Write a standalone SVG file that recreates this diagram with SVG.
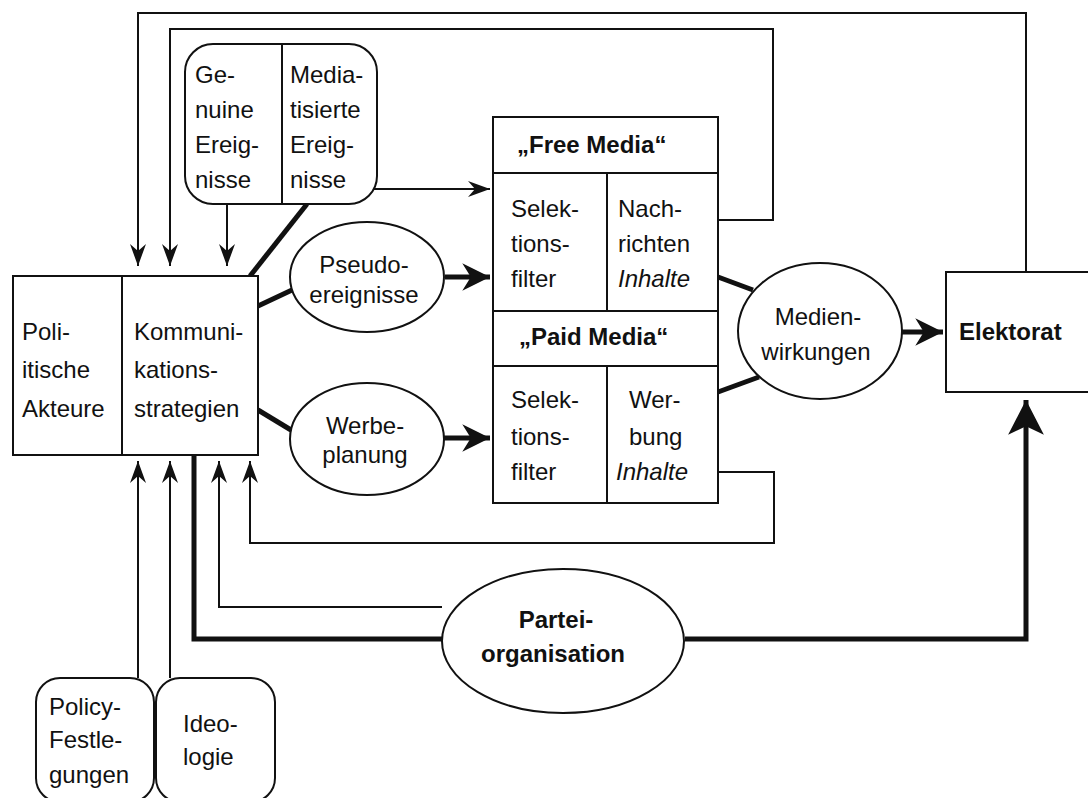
<svg xmlns="http://www.w3.org/2000/svg" width="1088" height="798" viewBox="0 0 1088 798">
<defs>
<style>
text{font-family:"Liberation Sans",Arial,sans-serif;font-size:24px;fill:#111}
.b{font-weight:bold}
.i{font-style:italic}
.m{text-anchor:middle}
.box{fill:#fff;stroke:#111;stroke-width:2}
.thin{fill:none;stroke:#111;stroke-width:2}
.thick{fill:none;stroke:#111;stroke-width:5}
</style>
<marker id="a1" markerUnits="userSpaceOnUse" markerWidth="30" markerHeight="24" viewBox="-24 -12 26 24" refX="0" refY="0" orient="auto"><path d="M0,0 L-22,-8 L-15,0 L-22,8 Z" fill="#111"/></marker>
<marker id="a2" markerUnits="userSpaceOnUse" markerWidth="34" markerHeight="32" viewBox="-28 -15 30 30" refX="0" refY="0" orient="auto"><path d="M0,0 L-26,-13 L-18,0 L-26,13 Z" fill="#111"/></marker>
<marker id="a3" markerUnits="userSpaceOnUse" markerWidth="40" markerHeight="40" viewBox="-35 -19 37 38" refX="0" refY="0" orient="auto"><path d="M0,0 L-33,-17 L-25,0 L-33,17 Z" fill="#111"/></marker>
</defs>

<g id="connectors">
<path class="thin" d="M1026,272 V13 H138 V266" marker-end="url(#a1)"/>
<path class="thin" d="M718,220 H773 V29 H170 V266" marker-end="url(#a1)"/>
<path class="thin" d="M227,204 V266" marker-end="url(#a1)"/>
<path class="thick" d="M307,204 L250,276"/>
<path class="thin" d="M372,189 H490" marker-end="url(#a1)"/>
<path class="thick" d="M258,306 L292,290"/>
<path class="thick" d="M445,277 H490" marker-end="url(#a2)"/>
<path class="thick" d="M258,410 L291,430"/>
<path class="thick" d="M444,438 H490" marker-end="url(#a2)"/>
<path class="thick" d="M718,277 L753,290"/>
<path class="thick" d="M718,392 L759,377"/>
<path class="thick" d="M902,332 H943" marker-end="url(#a2)"/>
<path class="thin" d="M718,472 H774 V543 H250 V461" marker-end="url(#a1)"/>
<path class="thin" d="M442,607 H219 V461" marker-end="url(#a1)"/>
<path class="thick" d="M194,455 V639 H442"/>
<path class="thick" d="M685,639 H1026 V400" marker-end="url(#a3)"/>
<path class="thin" d="M138,678 V461" marker-end="url(#a1)"/>
<path class="thin" d="M170,678 V461" marker-end="url(#a1)"/>
</g>

<g id="akteure">
<rect class="box" x="13" y="276" width="245" height="179"/>
<line class="thin" x1="122" y1="276" x2="122" y2="455"/>
<text x="22" y="340">Poli-</text>
<text x="22" y="378">itische</text>
<text x="22" y="417">Akteure</text>
<text x="134" y="340">Kommuni-</text>
<text x="134" y="378">kations-</text>
<text x="134" y="417">strategien</text>
</g>

<g id="ereignisse">
<rect class="box" x="185" y="44" width="192" height="160" rx="28"/>
<line class="thin" x1="282" y1="44" x2="282" y2="204"/>
<text x="195" y="83">Ge-</text>
<text x="195" y="118">nuine</text>
<text x="195" y="153">Ereig-</text>
<text x="195" y="188">nisse</text>
<text x="290" y="83">Media-</text>
<text x="290" y="118">tisierte</text>
<text x="290" y="153">Ereig-</text>
<text x="290" y="188">nisse</text>
</g>

<g id="pseudo">
<ellipse class="box" cx="367" cy="277" rx="77" ry="55"/>
<text class="m" x="364" y="273">Pseudo-</text>
<text class="m" x="364" y="303">ereignisse</text>
</g>

<g id="werbe">
<ellipse class="box" cx="367" cy="439" rx="77" ry="56"/>
<text class="m" x="365" y="434">Werbe-</text>
<text class="m" x="365" y="463">planung</text>
</g>

<g id="media">
<rect class="box" x="493" y="117" width="225" height="386"/>
<line class="thin" x1="493" y1="173" x2="718" y2="173"/>
<line class="thin" x1="493" y1="311" x2="718" y2="311"/>
<line class="thin" x1="493" y1="366" x2="718" y2="366"/>
<line class="thin" x1="607" y1="173" x2="607" y2="311"/>
<line class="thin" x1="607" y1="366" x2="607" y2="503"/>
<text class="b" x="517" y="153">„Free Media“</text>
<text x="511" y="217">Selek-</text>
<text x="511" y="252">tions-</text>
<text x="511" y="287">filter</text>
<text x="618" y="217">Nach-</text>
<text x="618" y="252">richten</text>
<text class="i" x="618" y="287">Inhalte</text>
<text class="b" x="519" y="345">„Paid Media“</text>
<text x="511" y="408">Selek-</text>
<text x="511" y="445">tions-</text>
<text x="511" y="480">filter</text>
<text x="629" y="408">Wer-</text>
<text x="629" y="445">bung</text>
<text class="i" x="616" y="480">Inhalte</text>
</g>

<g id="medienwirkungen">
<ellipse class="box" cx="820" cy="331" rx="82" ry="68"/>
<text class="m" x="818" y="325">Medien-</text>
<text class="m" x="816" y="360">wirkungen</text>
</g>

<g id="elektorat">
<rect class="box" x="946" y="272" width="150" height="120"/>
<text class="b" x="959" y="340">Elektorat</text>
</g>

<g id="partei">
<ellipse class="box" cx="563" cy="641" rx="121" ry="72"/>
<text class="b m" x="556" y="628">Partei-</text>
<text class="b m" x="553" y="662">organisation</text>
</g>

<g id="policy">
<rect class="box" x="36" y="678" width="118" height="124" rx="24"/>
<text x="49" y="715">Policy-</text>
<text x="49" y="748">Festle-</text>
<text x="49" y="783">gungen</text>
</g>

<g id="ideologie">
<rect class="box" x="156" y="678" width="119" height="124" rx="24"/>
<text x="183" y="732">Ideo-</text>
<text x="183" y="765">logie</text>
</g>
</svg>
